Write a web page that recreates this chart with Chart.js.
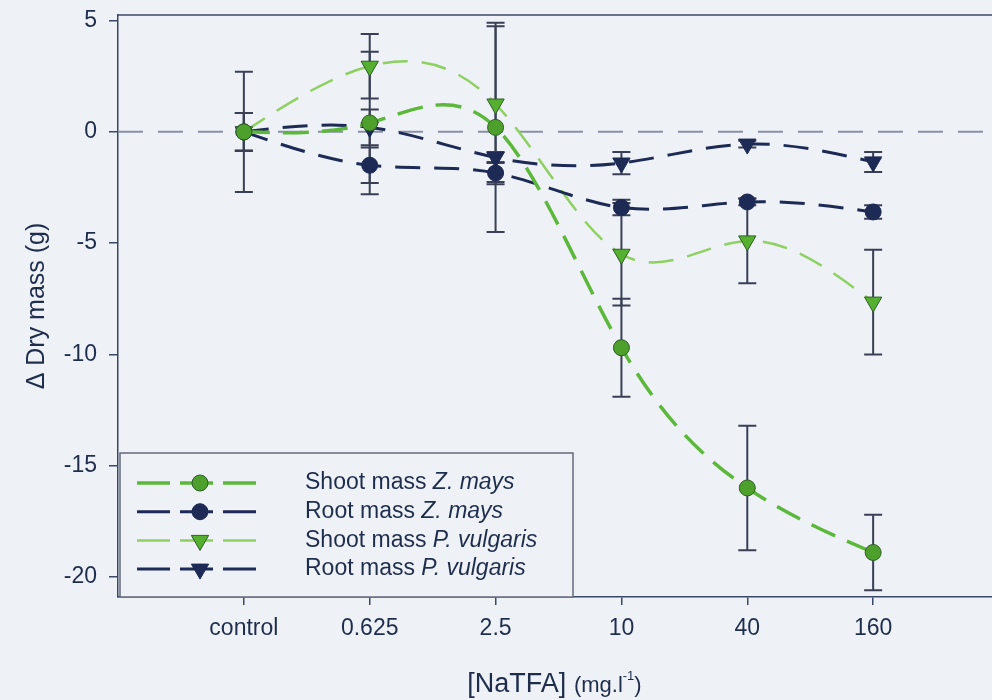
<!DOCTYPE html>
<html>
<head>
<meta charset="utf-8">
<title>Dry mass vs NaTFA</title>
<script src="https://cdn.jsdelivr.net/npm/chart.js@4"></script>
<style>
    html, body { margin: 0; padding: 0; background: #eef2f7; overflow: hidden; }
    #wrap { width: 1010px; height: 700px; position: relative; }
</style>
</head>
<body>
<div id="wrap"><canvas id="dryMassChart"></canvas></div>
<script>
// Concentration categories (x axis)
const xLabels = ['control', '0.625', '2.5', '10', '40', '160'];
const yTicks = [5, 0, -5, -10, -15, -20];

// Series means and error bar half-widths (g)
const shootZ = [0, 0.4, 0.2, -9.7, -16.0, -18.9];
const shootZErr = [2.7, 3.2, 4.7, 2.2, 2.8, 1.7];
const rootZ = [0, -1.5, -1.85, -3.4, -3.15, -3.6];
const rootZErr = [0.85, 0.8, 0.5, 0.35, 0.15, 0.3];
const shootP = [0, 2.95, 1.25, -5.5, -4.9, -7.65];
const shootPErr = [0.85, 1.45, 3.5, 2.3, 1.9, 2.35];
const rootP = [0, 0.2, -1.15, -1.4, -0.55, -1.35];
const rootPErr = [0.85, 0.8, 0.25, 0.5, 0.15, 0.45];

const errorSets = [shootZErr, rootZErr, shootPErr, rootPErr];

const FONT = '"Liberation Sans", Arial, sans-serif';
const textColor = '#1f2d4d';
const axisColor = '#3b4766';
const navy = '#1c2a55';

function toPoints(values) {
    return values.map((v, i) => ({ x: i, y: v }));
}

// Natural cubic spline through the points (like SigmaPlot's spline curves)
const naturalSpline = {
    id: 'naturalSpline',
    beforeDatasetDraw(chart, args) {
        const meta = args.meta;
        const line = meta.dataset;
        if (!line) return;
        line.updateControlPoints(chart.chartArea, meta.indexAxis);
        const pts = meta.data;
        const n = pts.length;
        if (n < 3) return;
        const xs = pts.map(p => p.x);
        const ys = pts.map(p => p.y);
        const h = [];
        for (let i = 0; i < n - 1; i++) h.push(xs[i + 1] - xs[i]);
        const a = [], b = [], c = [], d = [];
        for (let i = 1; i < n - 1; i++) {
            a.push(h[i - 1]);
            b.push(2 * (h[i - 1] + h[i]));
            c.push(h[i]);
            d.push(6 * ((ys[i + 1] - ys[i]) / h[i] - (ys[i] - ys[i - 1]) / h[i - 1]));
        }
        const m = n - 2;
        for (let i = 1; i < m; i++) {
            const w = a[i] / b[i - 1];
            b[i] -= w * c[i - 1];
            d[i] -= w * d[i - 1];
        }
        const M = new Array(n).fill(0);
        for (let i = m - 1; i >= 0; i--) {
            M[i + 1] = (d[i] - (i < m - 1 ? c[i] * M[i + 2] : 0)) / b[i];
        }
        for (let i = 0; i < n; i++) {
            let s;
            if (i < n - 1) {
                s = (ys[i + 1] - ys[i]) / h[i] - h[i] * (2 * M[i] + M[i + 1]) / 6;
            } else {
                s = (ys[i] - ys[i - 1]) / h[i - 1] + h[i - 1] * (M[i - 1] + 2 * M[i]) / 6;
            }
            if (i > 0) {
                pts[i].cp1x = xs[i] - h[i - 1] / 3;
                pts[i].cp1y = ys[i] - s * h[i - 1] / 3;
            }
            if (i < n - 1) {
                pts[i].cp2x = xs[i] + h[i] / 3;
                pts[i].cp2y = ys[i] + s * h[i] / 3;
            }
        }
    }
};

// Background, frame top line, zero line, error bars, legend and x title
const decorations = {
    id: 'decorations',
    beforeDraw(chart) {
        const ctx = chart.ctx;
        ctx.save();
        ctx.fillStyle = '#eef2f7';
        ctx.fillRect(0, 0, chart.width, chart.height);
        ctx.restore();
    },
    beforeDatasetsDraw(chart) {
        const ctx = chart.ctx;
        const area = chart.chartArea;
        const x = chart.scales.x;
        const y = chart.scales.y;
        ctx.save();
        // top frame line
        ctx.strokeStyle = axisColor;
        ctx.lineWidth = 1.5;
        ctx.beginPath();
        ctx.moveTo(area.left, area.top);
        ctx.lineTo(area.right + 20, area.top);
        ctx.stroke();
        // dashed zero line
        const y0 = y.getPixelForValue(0);
        ctx.strokeStyle = '#8a8fa8';
        ctx.lineWidth = 2;
        ctx.setLineDash([25, 15]);
        ctx.beginPath();
        ctx.moveTo(area.left, y0);
        ctx.lineTo(area.right + 20, y0);
        ctx.stroke();
        ctx.setLineDash([]);
        // error bars
        ctx.strokeStyle = '#3a3f55';
        ctx.lineWidth = 2;
        chart.data.datasets.forEach((ds, di) => {
            const errs = errorSets[di];
            ds.data.forEach((p, i) => {
                const e = errs[i];
                if (!e) return;
                const px = x.getPixelForValue(p.x);
                const top = y.getPixelForValue(p.y + e);
                const bot = y.getPixelForValue(p.y - e);
                ctx.beginPath();
                ctx.moveTo(px, top);
                ctx.lineTo(px, bot);
                ctx.moveTo(px - 9, top);
                ctx.lineTo(px + 9, top);
                ctx.moveTo(px - 9, bot);
                ctx.lineTo(px + 9, bot);
                ctx.stroke();
            });
        });
        ctx.restore();
    },
    afterDraw(chart) {
        const ctx = chart.ctx;
        const area = chart.chartArea;
        ctx.save();
        // legend box
        const bx = area.left + 2, by = area.bottom - 144, bw = 453, bh = 144;
        ctx.fillStyle = '#eef2f7';
        ctx.fillRect(bx, by, bw, bh);
        ctx.strokeStyle = '#666a7a';
        ctx.lineWidth = 1.5;
        ctx.strokeRect(bx, by, bw, bh);
        const names = [
            ['Shoot mass ', 'Z. mays'],
            ['Root mass ', 'Z. mays'],
            ['Shoot mass ', 'P. vulgaris'],
            ['Root mass ', 'P. vulgaris']
        ];
        chart.data.datasets.forEach((ds, i) => {
            const ry = by + 30 + i * 28.7;
            ctx.strokeStyle = ds.borderColor;
            ctx.lineWidth = ds.borderWidth;
            ctx.setLineDash([33, 10]);
            ctx.beginPath();
            ctx.moveTo(bx + 17, ry);
            ctx.lineTo(bx + 140, ry);
            ctx.stroke();
            ctx.setLineDash([]);
            ctx.fillStyle = ds.pointBackgroundColor;
            ctx.strokeStyle = ds.pointBorderColor;
            ctx.lineWidth = ds.pointBorderWidth;
            Chart.helpers.drawPoint(ctx, {
                pointStyle: ds.pointStyle,
                rotation: ds.pointRotation || 0,
                radius: ds.pointRadius,
                borderWidth: ds.pointBorderWidth
            }, bx + 80, ry);
            ctx.fillStyle = textColor;
            ctx.textBaseline = 'middle';
            ctx.textAlign = 'left';
            ctx.font = '23px ' + FONT;
            ctx.fillText(names[i][0], bx + 185, ry);
            const w = ctx.measureText(names[i][0]).width;
            ctx.font = 'italic 23px ' + FONT;
            ctx.fillText(names[i][1], bx + 185 + w, ry);
        });
        // x axis title with smaller unit part
        ctx.fillStyle = textColor;
        ctx.textBaseline = 'alphabetic';
        ctx.textAlign = 'left';
        const t1 = '[NaTFA] ';
        const t2 = '(mg.l';
        const t3 = '-1';
        const t4 = ')';
        ctx.font = '27px ' + FONT;
        const w1 = ctx.measureText(t1).width;
        ctx.font = '22px ' + FONT;
        const w2 = ctx.measureText(t2).width;
        const w4 = ctx.measureText(t4).width;
        ctx.font = '13px ' + FONT;
        const w3 = ctx.measureText(t3).width;
        let tx = (area.left + area.right) / 2 - (w1 + w2 + w3 + w4) / 2 - 4;
        const base = 692;
        ctx.font = '27px ' + FONT;
        ctx.fillText(t1, tx, base); tx += w1;
        ctx.font = '22px ' + FONT;
        ctx.fillText(t2, tx, base); tx += w2;
        ctx.font = '13px ' + FONT;
        ctx.fillText(t3, tx, base - 12); tx += w3;
        ctx.font = '22px ' + FONT;
        ctx.fillText(t4, tx, base);
        ctx.restore();
    }
};

const ctx = document.getElementById('dryMassChart').getContext('2d');
const chart = new Chart(ctx, {
    type: 'line',
    data: {
        datasets: [
            {
                label: 'Shoot mass Z. mays',
                data: toPoints(shootZ),
                borderColor: '#5cb83a',
                borderWidth: 3.5,
                borderDash: [26, 13],
                pointStyle: 'circle',
                pointRadius: 8,
                pointBackgroundColor: '#4ea02c',
                pointBorderColor: '#2e5e2a',
                pointBorderWidth: 1,
                tension: 0.4,
                order: 1
            },
            {
                label: 'Root mass Z. mays',
                data: toPoints(rootZ),
                borderColor: navy,
                borderWidth: 3,
                borderDash: [25, 14],
                pointStyle: 'circle',
                pointRadius: 8,
                pointBackgroundColor: navy,
                pointBorderColor: navy,
                pointBorderWidth: 1,
                tension: 0.4,
                order: 2
            },
            {
                label: 'Shoot mass P. vulgaris',
                data: toPoints(shootP),
                borderColor: '#8fd062',
                borderWidth: 2.5,
                borderDash: [25, 14],
                pointStyle: 'triangle',
                pointRotation: 180,
                pointRadius: 10,
                pointBackgroundColor: '#56b030',
                pointBorderColor: '#2e5e2a',
                pointBorderWidth: 1,
                tension: 0.4,
                order: 3
            },
            {
                label: 'Root mass P. vulgaris',
                data: toPoints(rootP),
                borderColor: navy,
                borderWidth: 3,
                borderDash: [25, 14],
                pointStyle: 'triangle',
                pointRotation: 180,
                pointRadius: 10,
                pointBackgroundColor: navy,
                pointBorderColor: navy,
                pointBorderWidth: 1,
                tension: 0.4,
                order: 4
            }
        ]
    },
    options: {
        responsive: true,
        maintainAspectRatio: false,
        animation: false,
        layout: { padding: { top: 15, right: 10, left: 0, bottom: 0 } },
        plugins: {
            legend: { display: false },
            tooltip: { enabled: false }
        },
        scales: {
            x: {
                type: 'linear',
                min: -1,
                max: 6,
                afterBuildTicks: axis => { axis.ticks = xLabels.map((_, i) => ({ value: i })); },
                afterFit: axis => { axis.height = 103; },
                grid: { drawOnChartArea: false, tickLength: 8, color: axisColor, lineWidth: 1.5 },
                border: { color: axisColor, width: 1.5 },
                ticks: {
                    autoSkip: false,
                    maxRotation: 0,
                    padding: 10,
                    color: textColor,
                    font: { family: FONT, size: 23 },
                    callback: value => xLabels[value] ?? ''
                }
            },
            y: {
                min: -20.9,
                max: 5.25,
                afterBuildTicks: axis => { axis.ticks = yTicks.map(v => ({ value: v })); },
                afterFit: axis => {
                    axis.width = 118;
                    axis.paddingTop = 0;
                    axis.paddingBottom = 0;
                },
                grid: { drawOnChartArea: false, tickLength: 9, color: axisColor, lineWidth: 1.5 },
                border: { color: axisColor, width: 1.5 },
                ticks: {
                    padding: 12,
                    color: textColor,
                    font: { family: FONT, size: 23 }
                },
                title: {
                    display: true,
                    text: 'Δ Dry mass (g)',
                    color: textColor,
                    font: { family: FONT, size: 25 },
                    padding: { top: 22, bottom: 0 }
                }
            }
        }
    },
    plugins: [naturalSpline, decorations]
});
</script>
</body>
</html>
